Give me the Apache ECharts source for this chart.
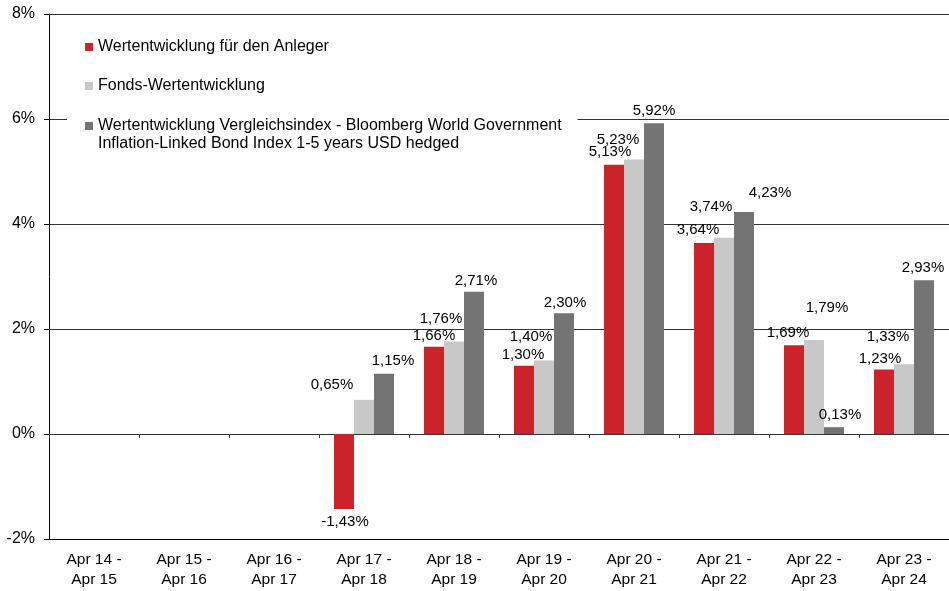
<!DOCTYPE html>
<html>
<head>
<meta charset="utf-8">
<script src="https://cdn.jsdelivr.net/npm/echarts@6/dist/echarts.min.js"></script>
<style>
  html, body { margin: 0; padding: 0; background: #fff; }
  #main { width: 949px; height: 591px; }
</style>
</head>
<body>
<div id="main"></div>
<script>
var categories = ['Apr 14 -\nApr 15', 'Apr 15 -\nApr 16', 'Apr 16 -\nApr 17', 'Apr 17 -\nApr 18', 'Apr 18 -\nApr 19',
  'Apr 19 -\nApr 20', 'Apr 20 -\nApr 21', 'Apr 21 -\nApr 22', 'Apr 22 -\nApr 23', 'Apr 23 -\nApr 24'];

var anleger = [null, null, null, -1.43, 1.66, 1.30, 5.13, 3.64, 1.69, 1.23];
var fonds = [null, null, null, 0.65, 1.76, 1.40, 5.23, 3.74, 1.79, 1.33];
var vergleich = [null, null, null, 1.15, 2.71, 2.30, 5.92, 4.23, 0.13, 2.93];

var names = ['Wertentwicklung für den Anleger', 'Fonds-Wertentwicklung',
  'Wertentwicklung Vergleichsindex - Bloomberg World Government\nInflation-Linked Bond Index 1-5 years USD hedged'];

// labels in the original were moved by hand, shift [dx, dy] in px
var anlegerShift = [null, null, null, [1, 2], [0, 0], [-1, 0], [-4, -2], [-6, -3], [-6, -2], [-4, 0]];
var fondsShift = [null, null, null, [-32, -5], [-13, -12], [-13, -13], [-16, -9], [-13, -20], [13, -22], [-16, -17]];
var vergleichShift = [null, null, null, [9, -2], [2, 0], [1, 0], [0, -2], [26, -9], [6, -2], [-1, -2]];

var font = 'Liberation Sans, Arial, sans-serif';

function pct(p) {
  return p.value.toFixed(2).replace('.', ',') + '%';
}

function build(values, shift) {
  return values.map(function (v, i) {
    if (v == null) return '-';
    return {
      value: v,
      label: {
        position: v < 0 ? 'bottom' : 'top',
        offset: shift[i]
      }
    };
  });
}

function bar(name, color, values, shift) {
  return {
    name: name,
    type: 'bar',
    xAxisIndex: 0,
    barWidth: 20,
    barGap: '0%',
    itemStyle: { color: color },
    label: {
      show: true,
      distance: 3,
      formatter: pct,
      color: '#000',
      fontSize: 15,
      fontFamily: font
    },
    data: build(values, shift)
  };
}

var myChart = echarts.init(document.getElementById('main'));
myChart.setOption({
  animation: false,
  backgroundColor: '#fff',
  grid: {
    left: 49,
    right: -2,
    top: 14,
    bottom: 52
  },
  legend: [{
    data: [names[0], names[1]],
    orient: 'vertical',
    left: 85,
    top: 39,
    padding: 0,
    itemGap: 23,
    itemWidth: 8,
    itemHeight: 8,
    icon: 'rect',
    selectedMode: false,
    textStyle: { fontSize: 16, color: '#000', fontFamily: font }
  }, {
    data: [names[2]],
    // empty first line so the marker sits next to the first text line
    formatter: function (name) {
      return '\n' + name;
    },
    orient: 'vertical',
    left: 67,
    top: 99,
    padding: [0, 16, 0, 18],
    backgroundColor: '#fff',
    itemWidth: 8,
    itemHeight: 8,
    icon: 'rect',
    selectedMode: false,
    textStyle: { fontSize: 16, lineHeight: 18, color: '#000', fontFamily: font }
  }],
  xAxis: [{
    type: 'category',
    data: categories,
    position: 'bottom',
    axisLine: { onZero: false, lineStyle: { color: '#000', width: 1 } },
    axisTick: { show: false },
    axisLabel: {
      interval: 0,
      margin: 11,
      fontSize: 15.5,
      lineHeight: 20,
      color: '#000',
      fontFamily: font
    }
  }, {
    type: 'category',
    data: categories,
    position: 'bottom',
    axisLine: { onZero: true, lineStyle: { color: '#333', width: 1 } },
    axisTick: { show: true, length: 4, lineStyle: { color: '#333' } },
    axisLabel: { show: false }
  }],
  yAxis: {
    type: 'value',
    min: -2,
    max: 8,
    interval: 2,
    axisLine: { show: true, lineStyle: { color: '#000' } },
    axisTick: { show: true, length: 5, lineStyle: { color: '#000' } },
    axisLabel: {
      formatter: '{value}%',
      margin: 14,
      fontSize: 16,
      color: '#000',
      fontFamily: font
    },
    splitLine: { show: true, lineStyle: { color: '#333', width: 1 } }
  },
  series: [
    bar(names[0], '#cc2229', anleger, anlegerShift),
    bar(names[1], '#c8c8c8', fonds, fondsShift),
    bar(names[2], '#747474', vergleich, vergleichShift)
  ]
});
</script>
</body>
</html>
